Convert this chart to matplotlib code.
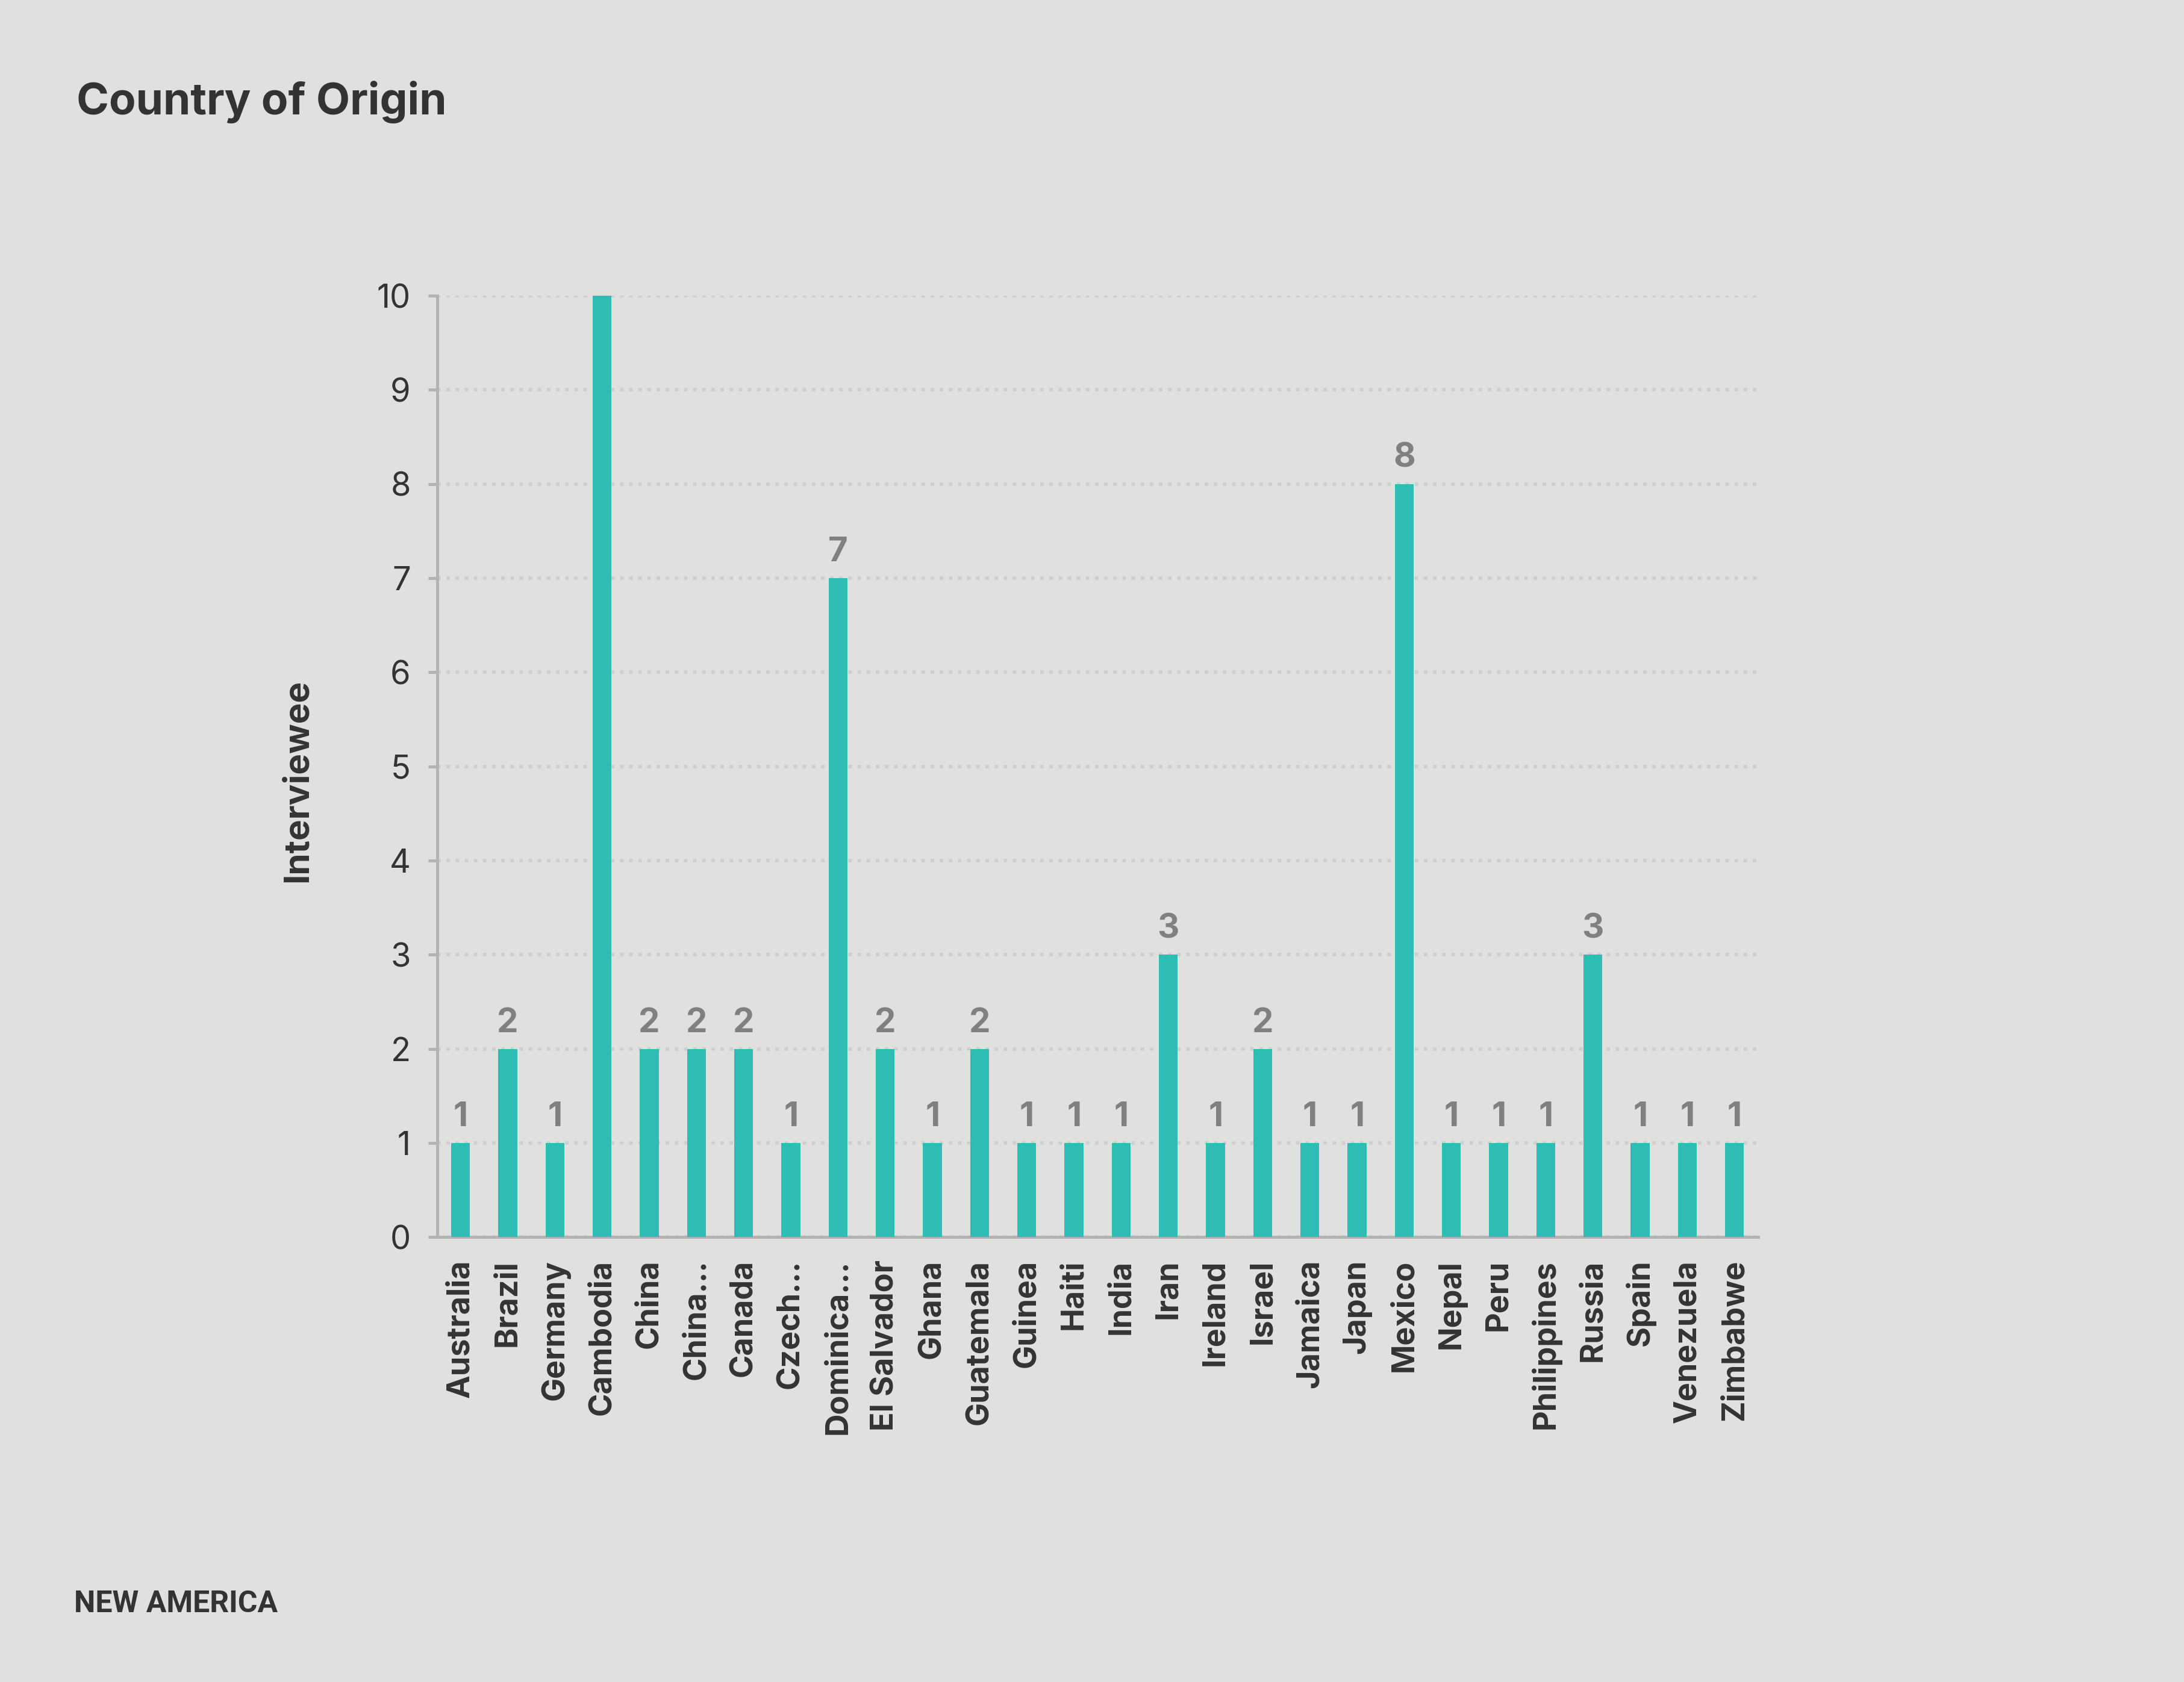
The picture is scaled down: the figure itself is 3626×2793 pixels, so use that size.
import matplotlib.pyplot as plt

countries = ['Australia', 'Brazil', 'Germany', 'Cambodia', 'China', 'China…',
             'Canada', 'Czech…', 'Dominica…', 'El Salvador', 'Ghana', 'Guatemala',
             'Guinea', 'Haiti', 'India', 'Iran', 'Ireland', 'Israel', 'Jamaica',
             'Japan', 'Mexico', 'Nepal', 'Peru', 'Philippines', 'Russia', 'Spain',
             'Venezuela', 'Zimbabwe']
counts = [1, 2, 1, 10, 2, 2, 2, 1, 7, 2, 1, 2, 1, 1, 1, 3, 1, 2, 1, 1, 8,
          1, 1, 1, 3, 1, 1, 1]
y_ticks = [0, 1, 2, 3, 4, 5, 6, 7, 8, 9, 10]

bg = '#e0e0de'
teal = '#2ebdb4'
dark = '#333333'

plt.rcParams['font.family'] = ['Inter', 'DejaVu Sans']

fig = plt.figure(figsize=(3626 / 300, 2793 / 300), dpi=300, facecolor=bg)
ax = fig.add_axes([0.2001, 0.2645, 0.6049, 0.5597])
ax.set_facecolor(bg)

x = list(range(len(countries)))
bars = ax.bar(x, counts, width=0.4, color=teal, zorder=3)

ax.set_xlim(-0.5, len(countries) - 0.5)
ax.set_ylim(0, 10)
ax.set_yticks(y_ticks)
ax.set_xticks(x)
ax.set_xticklabels(countries, rotation=90, fontsize=12.5, fontweight='bold',
                   color=dark, va='top', ha='center')
ax.tick_params(axis='x', length=0, pad=9)
ax.tick_params(axis='y', length=3.5, width=1.2, color='#b3b3b3',
               labelsize=13, labelcolor=dark, pad=7)

for s in ['top', 'right']:
    ax.spines[s].set_visible(False)
for s in ['left', 'bottom']:
    ax.spines[s].set_color('#b3b3b3')
    ax.spines[s].set_linewidth(1.2)

ax.yaxis.grid(True, color='#cfcfcf', linestyle=(0, (1, 1.6)), linewidth=1.4, zorder=0)
ax.set_axisbelow(True)

# value labels above bars; the one at the top edge is cut off in the original
vals = [str(v) if v < 10 else '' for v in counts]
ax.bar_label(bars, labels=vals, padding=4, fontsize=13.5, fontweight='bold', color='#808080')

fig.text(0.1365, 0.536, 'Interviewee', rotation=90, fontsize=14,
         fontweight='bold', color=dark, ha='center', va='center')

fig.text(0.035, 0.932, 'Country of Origin', fontsize=17.5, fontweight='bold',
         color=dark, ha='left', va='baseline')

fig.text(0.034, 0.0415, 'NEW AMERICA', fontsize=12, fontweight='bold',
         color=dark, ha='left', va='baseline', family=['Roboto', 'DejaVu Sans'])

fig.savefig('out.png', dpi=300, facecolor=bg)
